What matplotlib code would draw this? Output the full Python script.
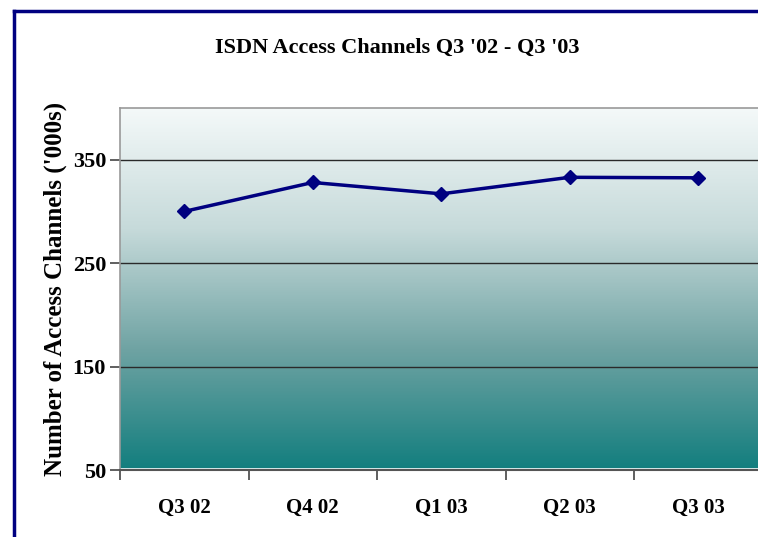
import matplotlib
matplotlib.use("Agg")

import matplotlib.pyplot as plt
import numpy as np
from matplotlib.colors import LinearSegmentedColormap
from matplotlib.lines import Line2D

quarters = ["Q3 02", "Q4 02", "Q1 03", "Q2 03", "Q3 03"]
channels = [300, 328, 317, 333, 332.5]
y_ticks = [50, 150, 250, 350]

plt.rcParams["font.family"] = ["Liberation Serif", "DejaVu Serif"]
plt.rcParams["font.weight"] = "bold"

fig = plt.figure(figsize=(7.58, 5.37), dpi=100)
ax = fig.add_axes([120 / 758, 67 / 537, 642.5 / 758, 362 / 537])

# background gradient: pale at top, teal at bottom
cmap = LinearSegmentedColormap.from_list(
    "teal", ["#127e7e", "#6fa3a3", "#c6dada", "#f4f9f9"])
grad = np.linspace(0, 1, 256).reshape(-1, 1)
ax.imshow(grad, cmap=cmap, aspect="auto", origin="lower",
          extent=[-0.5, 4.5, 50, 400], zorder=0)

for y in y_ticks[1:]:
    ax.axhline(y, color="#2a2a2a", lw=1.0, zorder=1)
ax.axhline(51, color="white", lw=1.2, zorder=1)

x = np.arange(len(quarters))
ax.plot(x, channels, color="#000080", lw=2.5, marker="D", markersize=7,
        zorder=3)

ax.set_xlim(-0.5, 4.5)
ax.set_ylim(50, 400)
ax.set_yticks(y_ticks)
ax.set_yticklabels([str(v) for v in y_ticks], fontsize=16, fontweight="bold")
ax.set_xticks(np.arange(-0.5, 5.0, 1.0))
ax.set_xticklabels([])
ax.set_xticks(x, minor=True)
ax.set_xticklabels(quarters, minor=True, fontsize=15, fontweight="bold")
ax.tick_params(axis="x", which="minor", length=0, pad=20)
ax.tick_params(axis="x", which="major", length=7, width=1.2, color="#444444")
ax.tick_params(axis="y", length=7, width=1.2, color="#444444", pad=3)

for side in ["top", "left", "right"]:
    ax.spines[side].set_color("#999999")
    ax.spines[side].set_linewidth(1.2)
ax.spines["bottom"].set_color("#555555")
ax.spines["bottom"].set_linewidth(1.5)

ax.set_ylabel("Number of Access Channels ('000s)", fontsize=18,
              fontweight="bold", labelpad=4)

fig.text(397 / 758, 1 - 48 / 537, "ISDN Access Channels Q3 '02 - Q3 '03",
         ha="center", va="center", fontsize=16, fontweight="bold")

# chart-object frame (navy top and left edges)
fig.add_artist(Line2D([14 / 758, 14 / 758], [0, 1 - 11 / 537],
                      color="#000080", lw=2.5, transform=fig.transFigure))
fig.add_artist(Line2D([14 / 758, 1], [1 - 11 / 537, 1 - 11 / 537],
                      color="#000080", lw=2.5, transform=fig.transFigure))

fig.savefig("out.png", dpi=100)
